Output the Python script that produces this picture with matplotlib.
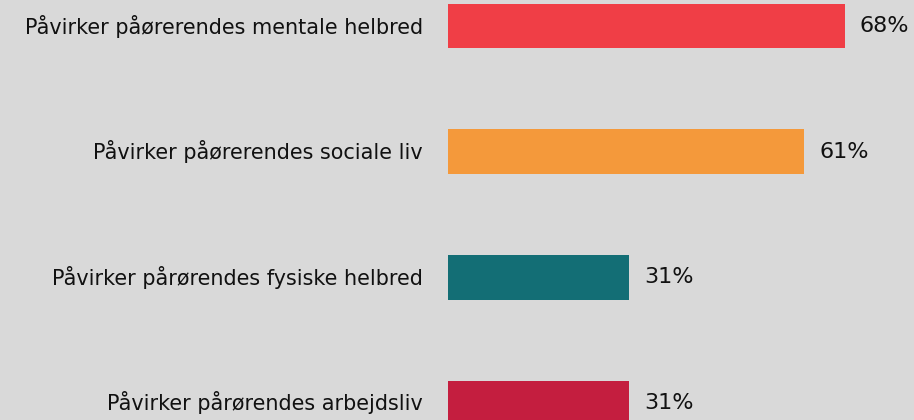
import matplotlib.pyplot as plt

labels = ['Påvirker påørerendes mentale helbred',
          'Påvirker påørerendes sociale liv',
          'Påvirker pårørendes fysiske helbred',
          'Påvirker pårørendes arbejdsliv']
values = [68, 61, 31, 31]
colors = ['#F03E46', '#F4993B', '#136E75', '#C41E3F']

bg = '#D9D9D9'
W, H = 914, 420
left = 448

fig = plt.figure(figsize=(W / 100, H / 100), dpi=100, facecolor=bg)
ax = fig.add_axes([left / W, 0, 1 - left / W, 1])
ax.set_facecolor(bg)

y = list(range(len(values)))
ax.barh(y, values, height=0.355, color=colors)

# scale: ~5.84 px per percent
ax.set_xlim(0, (W - left) / 5.838)
ax.set_ylim(3 + (420 - 403) / 125.5, -26 / 125.5)

for yi, v, lab in zip(y, values, labels):
    ax.text(v + 15 / 5.838, yi, f'{v}%', va='center', ha='left',
            fontsize=16, color='#111111')
    ax.text(-25 / 5.838, yi, lab, va='center', ha='right',
            fontsize=14.95, color='#111111', clip_on=False)

ax.axis('off')
fig.savefig('out.png', dpi=100, facecolor=bg)
